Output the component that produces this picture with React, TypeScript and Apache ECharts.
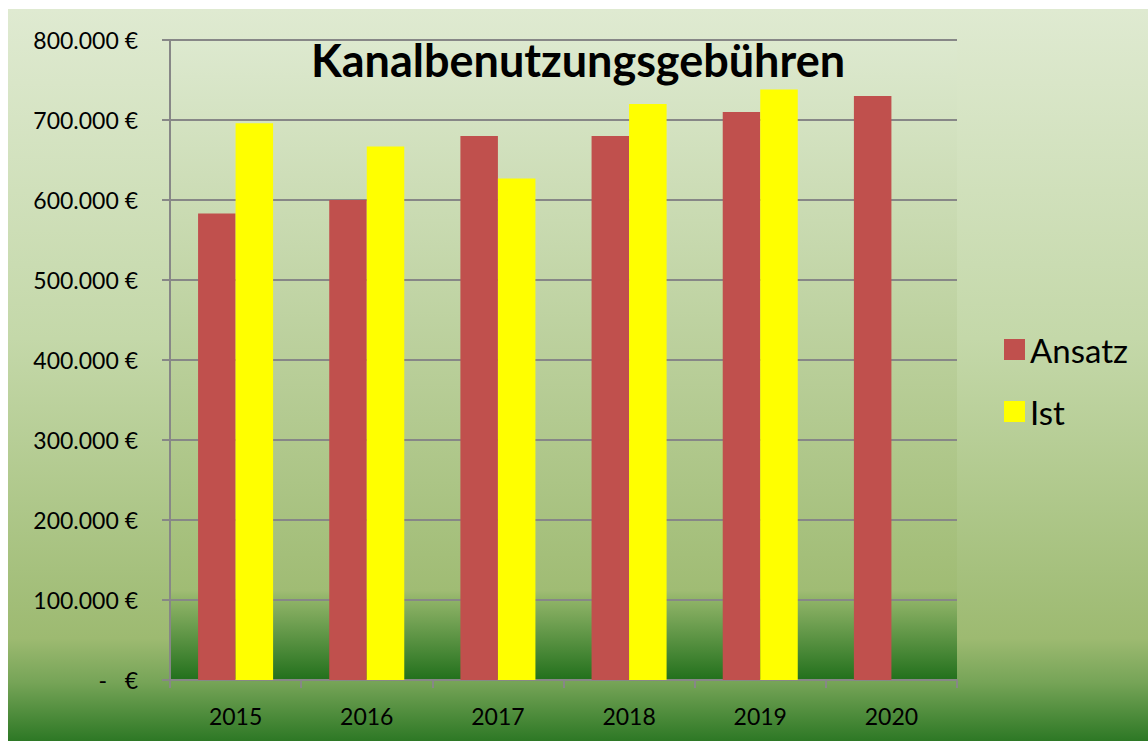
import React, { useEffect, useRef } from "react";
import * as echarts from "echarts";

const years = ["2015", "2016", "2017", "2018", "2019", "2020"];
const ansatz = [583000, 600000, 680000, 680000, 710000, 730000];
const ist: (number | null)[] = [696000, 667000, 627000, 720000, 738000, null];
const seriesNames = ["Ansatz", "Ist"];
const titleText = "Kanalbenutzungsgebühren";

function fmt(v: number): string {
  if (v === 0) return "-\u00A0\u00A0\u00A0€";
  return String(v).replace(/\B(?=(\d{3})+(?!\d))/g, ".") + " €";
}

export default function App() {
  const ref = useRef<HTMLDivElement>(null);
  useEffect(() => {
    if (!ref.current) return;
    const chart = echarts.init(ref.current, undefined, { renderer: "svg" });
    const gray = "#878787";
    const font = "Lato";
    chart.setOption({
      animation: false,
      backgroundColor: new echarts.graphic.LinearGradient(0, 0, 0, 1, [
        { offset: 0, color: "#dfead1" },
        { offset: 0.45, color: "#c4d8a9" },
        { offset: 0.86, color: "#9dba71" },
        { offset: 0.92, color: "#76a457" },
        { offset: 1, color: "#2d7825" },
      ]),
      title: {
        text: titleText,
        left: "center",
        top: 28,
        padding: [0, 0, 0, 18],
        textStyle: { fontFamily: font, fontWeight: "bold", fontSize: 45, color: "#000" },
      },
      legend: {
        orient: "vertical",
        left: 991,
        top: 319,
        icon: "rect",
        itemWidth: 21,
        itemHeight: 21,
        itemGap: 29,
        data: seriesNames,
        textStyle: { fontFamily: font, fontSize: 33, color: "#000", lineHeight: 21 },
      },
      grid: {
        left: 162,
        top: 31,
        right: 191,
        bottom: 61,
        show: true,
        borderWidth: 0,
        backgroundColor: new echarts.graphic.LinearGradient(0, 0, 0, 1, [
          { offset: 0, color: "#dde9cf" },
          { offset: 0.86, color: "#a0bc74" },
          { offset: 0.875, color: "#8fb367" },
          { offset: 1, color: "#22701c" },
        ]),
      },
      xAxis: {
        type: "category",
        data: years,
        axisLine: { show: true, lineStyle: { color: gray, width: 2 } },
        axisTick: { show: true, length: 8, lineStyle: { color: gray, width: 2 } },
        axisLabel: { fontFamily: font, fontSize: 23, color: "#000", margin: 24 },
      },
      yAxis: {
        type: "value",
        min: 0,
        max: 800000,
        interval: 100000,
        axisLine: { show: true, lineStyle: { color: gray, width: 2 } },
        axisTick: { show: true, length: 8, lineStyle: { color: gray, width: 2 } },
        splitLine: { show: true, lineStyle: { color: gray, width: 2 } },
        axisLabel: { fontFamily: font, fontSize: 23, color: "#000", margin: 32, formatter: fmt },
      },
      series: [
        {
          name: seriesNames[0],
          type: "bar",
          data: ansatz,
          barWidth: "28.6%",
          barGap: "0%",
          itemStyle: { color: "#c0504d" },
        },
        {
          name: seriesNames[1],
          type: "bar",
          data: ist,
          barWidth: "28.6%",
          barGap: "0%",
          itemStyle: { color: "#ffff00" },
        },
      ],
    });
    return () => chart.dispose();
  }, []);
  return (
    <div
      ref={ref}
      style={{ position: "absolute", left: 8, top: 9, width: 1140, height: 732 }}
    />
  );
}
